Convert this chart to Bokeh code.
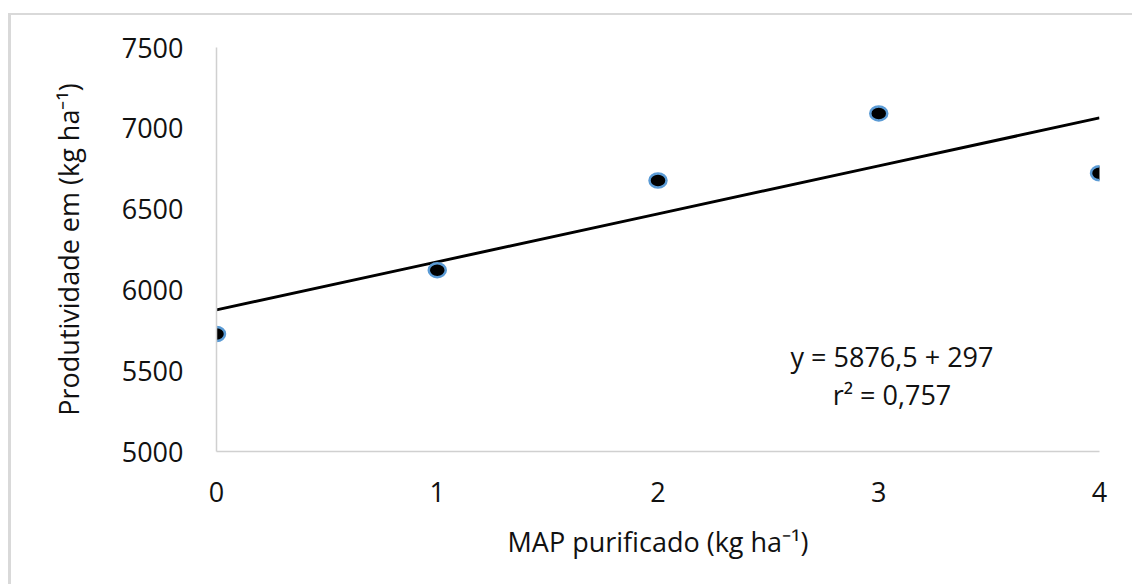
from bokeh.plotting import figure
from bokeh.models import Range1d, FixedTicker, Label
from bokeh.embed import file_html
from bokeh.resources import INLINE

# ---- data ----
doses = [0, 1, 2, 3, 4]
produtividade = [5727, 6122, 6677, 7092, 6722]
intercept = 5876.5
slope = 297
y_ticks = [5000, 5500, 6000, 6500, 7000, 7500]
x_ticks = [0, 1, 2, 3, 4]
eq_text = "y = 5876,5 + 297"
r2_text = "r² = 0,757"
x_label = "MAP purificado (kg ha⁻¹)"
y_label = "Produtividade em (kg ha⁻¹)"

FONT = "Open Sans"
FS = "27px"

p = figure(
    frame_width=883, frame_height=404,
    min_border_left=205, min_border_right=33,
    min_border_top=32, min_border_bottom=133,
    x_range=Range1d(0, 4), y_range=Range1d(5000, 7500),
    output_backend="svg", toolbar_location=None,
)
p.styles = {
    "border-top": "2px solid #d9d9d9",
    "border-left": "3px solid #d9d9d9",
    "border-right": "none",
    "border-bottom": "none",
    "outline": "none",
    "box-shadow": "none",
    "margin-top": "13px",
    "margin-left": "8px",
}
p.outline_line_color = None
p.grid.visible = False
p.background_fill_color = "white"
p.border_fill_color = "white"

for ax in (p.xaxis[0], p.yaxis[0]):
    ax.axis_line_color = "#d0d0d0"
    ax.axis_line_width = 1.5
    ax.major_tick_in = 0
    ax.major_tick_out = 0
    ax.minor_tick_line_color = None
    ax.major_label_text_font = FONT
    ax.major_label_text_font_size = FS
    ax.major_label_text_color = "#111111"
    ax.axis_label_text_font = FONT
    ax.axis_label_text_font_size = FS
    ax.axis_label_text_font_style = "normal"
    ax.axis_label_text_color = "#111111"

p.xaxis[0].ticker = FixedTicker(ticks=x_ticks)
p.yaxis[0].ticker = FixedTicker(ticks=y_ticks)
p.xaxis[0].major_label_standoff = 30
p.yaxis[0].major_label_standoff = 33
p.xaxis[0].axis_label = x_label
p.yaxis[0].axis_label = y_label
p.xaxis[0].axis_label_standoff = 18
p.yaxis[0].axis_label_standoff = 32

# trend line
trend = [intercept + slope * x for x in doses]
p.line(doses, trend, line_color="black", line_width=3)

# points
p.ellipse(doses, produtividade, width=17, height=14,
          width_units="screen", height_units="screen",
          fill_color="black", line_color="#5b9bd5", line_width=2.5)

p.add_layout(Label(x=3.06, y=5590, text=eq_text, text_align="center",
                   text_baseline="alphabetic", text_font=FONT,
                   text_font_size=FS, text_color="#111111"))
p.add_layout(Label(x=3.06, y=5353, text=r2_text, text_align="center",
                   text_baseline="alphabetic", text_font=FONT,
                   text_font_size=FS, text_color="#111111"))

open("out.html", "w").write(file_html(p, INLINE))
